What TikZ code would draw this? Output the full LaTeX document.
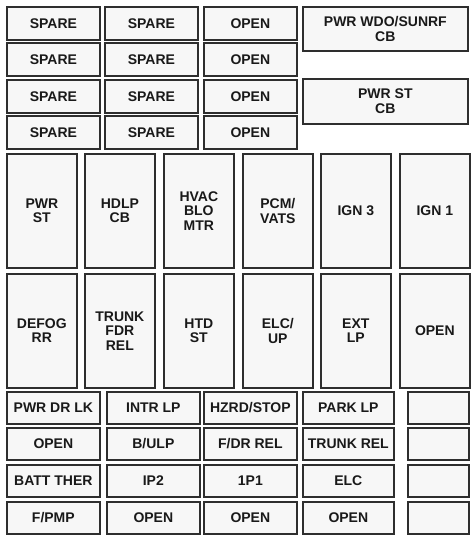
\documentclass[tikz,border=0pt]{standalone}
\usepackage{fontspec}
\setmainfont{Liberation Sans}
\begin{document}
\begin{tikzpicture}[x=1pt,y=-1pt,
  cell/.style 2 args={draw=black!82, line width=1.7pt, fill=black!3, anchor=north west,
    minimum width=#1, minimum height=#2, inner sep=0pt, align=center,
    text=black!90, font=\fontsize{14}{14.5}\selectfont\bfseries},
  sm/.style={cell={93pt}{33pt}},
  tall/.style={cell={70pt}{114pt}},
  lo/.style={cell={93pt}{32pt}}]
\useasboundingbox (0,0) rectangle (474,538);
% top small grid
\node[sm] (a11) at (6,6) {SPARE};
\node[sm] (a12) at (104,6) {SPARE};
\node[sm] (a13) at (203,6) {OPEN};
\node[sm] (a21) at (6,42) {SPARE};
\node[sm] (a22) at (104,42) {SPARE};
\node[sm] (a23) at (203,42) {OPEN};
\node[sm] (a31) at (6,79) {SPARE};
\node[sm] (a32) at (104,79) {SPARE};
\node[sm] (a33) at (203,79) {OPEN};
\node[sm] (a41) at (6,115) {SPARE};
\node[sm] (a42) at (104,115) {SPARE};
\node[sm] (a43) at (203,115) {OPEN};
\node[cell={165pt}{44pt}] (pwrwdo) at (302,6) {PWR WDO/SUNRF\\CB};
\node[cell={165pt}{45pt}] (pwrstcb) at (302,78) {PWR ST\\CB};
% tall row 1
\node[tall] (b1) at (6,153) {PWR\\ST};
\node[tall] (b2) at (84,153) {HDLP\\CB};
\node[tall] (b3) at (163,153) {HVAC\\BLO\\MTR};
\node[tall] (b4) at (242,153) {PCM/\\VATS};
\node[tall] (b5) at (320,153) {IGN 3};
\node[tall] (b6) at (399,153) {IGN 1};
% tall row 2
\node[tall] (c1) at (6,273) {DEFOG\\RR};
\node[tall] (c2) at (84,273) {TRUNK\\FDR\\REL};
\node[tall] (c3) at (163,273) {HTD\\ST};
\node[tall] (c4) at (242,273) {ELC/\\UP};
\node[tall] (c5) at (320,273) {EXT\\LP};
\node[tall] (c6) at (399,273) {OPEN};
% bottom grid
\node[lo] (d11) at (6,391) {PWR DR LK};
\node[lo] (d12) at (106,391) {INTR LP};
\node[lo] (d13) at (203,391) {HZRD/STOP};
\node[cell={91pt}{32pt}] (d14) at (302,391) {PARK LP};
\node[cell={61pt}{32pt}] (d15) at (407,391) {};
\node[lo] (d21) at (6,427) {OPEN};
\node[lo] (d22) at (106,427) {B/ULP};
\node[lo] (d23) at (203,427) {F/DR REL};
\node[cell={91pt}{32pt}] (d24) at (302,427) {TRUNK REL};
\node[cell={61pt}{32pt}] (d25) at (407,427) {};
\node[lo] (d31) at (6,464) {BATT THER};
\node[lo] (d32) at (106,464) {IP2};
\node[lo] (d33) at (203,464) {1P1};
\node[cell={91pt}{32pt}] (d34) at (302,464) {ELC};
\node[cell={61pt}{32pt}] (d35) at (407,464) {};
\node[lo] (d41) at (6,501) {F/PMP};
\node[lo] (d42) at (106,501) {OPEN};
\node[lo] (d43) at (203,501) {OPEN};
\node[cell={91pt}{32pt}] (d44) at (302,501) {OPEN};
\node[cell={61pt}{32pt}] (d45) at (407,501) {};
\end{tikzpicture}
\end{document}
